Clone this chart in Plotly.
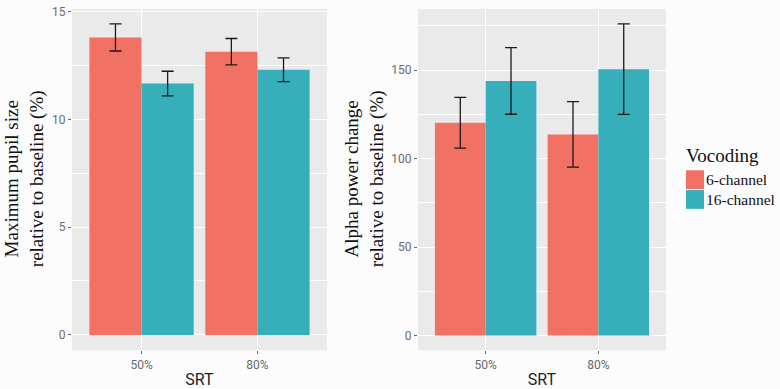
import plotly.graph_objects as go

srt = ["50%", "80%"]
groups = ["6-channel", "16-channel"]
colors = {"6-channel": "#F27165", "16-channel": "#36AFBB"}

pupil_mean = {"6-channel": [13.8, 13.14], "16-channel": [11.66, 12.3]}
pupil_err = {"6-channel": [0.63, 0.61], "16-channel": [0.57, 0.55]}

alpha_mean = {"6-channel": [120.2, 113.6], "16-channel": [143.8, 150.5]}
alpha_err = {"6-channel": [14.3, 18.5], "16-channel": [18.8, 25.6]}

fig = go.Figure()
for g in groups:
    fig.add_trace(go.Bar(
        x=srt, y=pupil_mean[g], name=g, xaxis="x", yaxis="y",
        marker=dict(color=colors[g], line=dict(width=0)),
        error_y=dict(type="data", array=pupil_err[g], color="#1a1a1a", thickness=1.3, width=6),
        showlegend=False))
for g in groups:
    fig.add_trace(go.Bar(
        x=srt, y=alpha_mean[g], name=g, xaxis="x2", yaxis="y2",
        marker=dict(color=colors[g], line=dict(width=0)),
        error_y=dict(type="data", array=alpha_err[g], color="#1a1a1a", thickness=1.3, width=6),
        showlegend=False))

tickfont = dict(family="Roboto, Arial, sans-serif", size=12, color="#6a6a6a")
xcommon = dict(type="category", range=[-0.6, 1.6], showgrid=True, gridcolor="white", gridwidth=1.2,
               ticks="outside", ticklen=3, tickcolor="#6a6a6a", tickfont=tickfont, zeroline=False,
               showline=False,
               title=dict(text="SRT", font=dict(family="Roboto, Arial, sans-serif", size=16, color="#222"), standoff=2))
ycommon = dict(showgrid=True, gridcolor="white", gridwidth=1.2, ticks="outside", ticklen=3,
               tickcolor="#6a6a6a", tickfont=tickfont, zeroline=False, showline=False)

fig.update_layout(
    width=780, height=389,
    margin=dict(l=0, r=0, t=0, b=0),
    paper_bgcolor="#FCFCFC",
    plot_bgcolor="#EBEAEB",
    barmode="group", bargap=0.1, bargroupgap=0,
    xaxis=dict(domain=[72/780, 327/780], anchor="y", **xcommon),
    xaxis2=dict(domain=[418/780, 666/780], anchor="y2", **xcommon),
    yaxis=dict(domain=[1-350/389, 1-5/389], anchor="x", range=[-0.72, 15.12], tick0=0, dtick=5,
               minor=dict(dtick=2.5, showgrid=True, gridcolor="white", gridwidth=0.6), **ycommon),
    yaxis2=dict(domain=[1-350/389, 1-5/389], anchor="x2", range=[-8.4, 184.5], tick0=0, dtick=50,
                minor=dict(dtick=25, showgrid=True, gridcolor="white", gridwidth=0.6), **ycommon),
)

serif = "Liberation Serif, Times New Roman, serif"
fig.add_annotation(x=24/780, y=(1-177/389), xref="paper", yref="paper", textangle=-90,
                   text="Maximum pupil size<br>relative to baseline (%)", showarrow=False,
                   font=dict(family=serif, size=19, color="#111"), xanchor="center", yanchor="middle")
fig.add_annotation(x=364/780, y=(1-177/389), xref="paper", yref="paper", textangle=-90,
                   text="Alpha power change<br>relative to baseline (%)", showarrow=False,
                   font=dict(family=serif, size=19, color="#111"), xanchor="center", yanchor="middle")

# legend
fig.add_annotation(x=684/780, y=1-153/389, xref="paper", yref="paper", text="Vocoding", showarrow=False,
                   xanchor="left", yanchor="middle", font=dict(family=serif, size=19, color="#111"))
for i, g in enumerate(groups):
    y0 = 168 + i * 20
    fig.add_shape(type="rect", xref="paper", yref="paper", x0=686/780, x1=704/780,
                  y0=1-(y0+19)/389, y1=1-y0/389, fillcolor=colors[g], line=dict(width=0))
    fig.add_annotation(x=704/780, y=1-(y0+9.5)/389, xref="paper", yref="paper", text=g, showarrow=False,
                       xanchor="left", yanchor="middle", font=dict(family=serif, size=15.5, color="#111"))

fig.write_html("out.html", config={"displayModeBar": False},
               post_script="document.body.style.margin='0';")
